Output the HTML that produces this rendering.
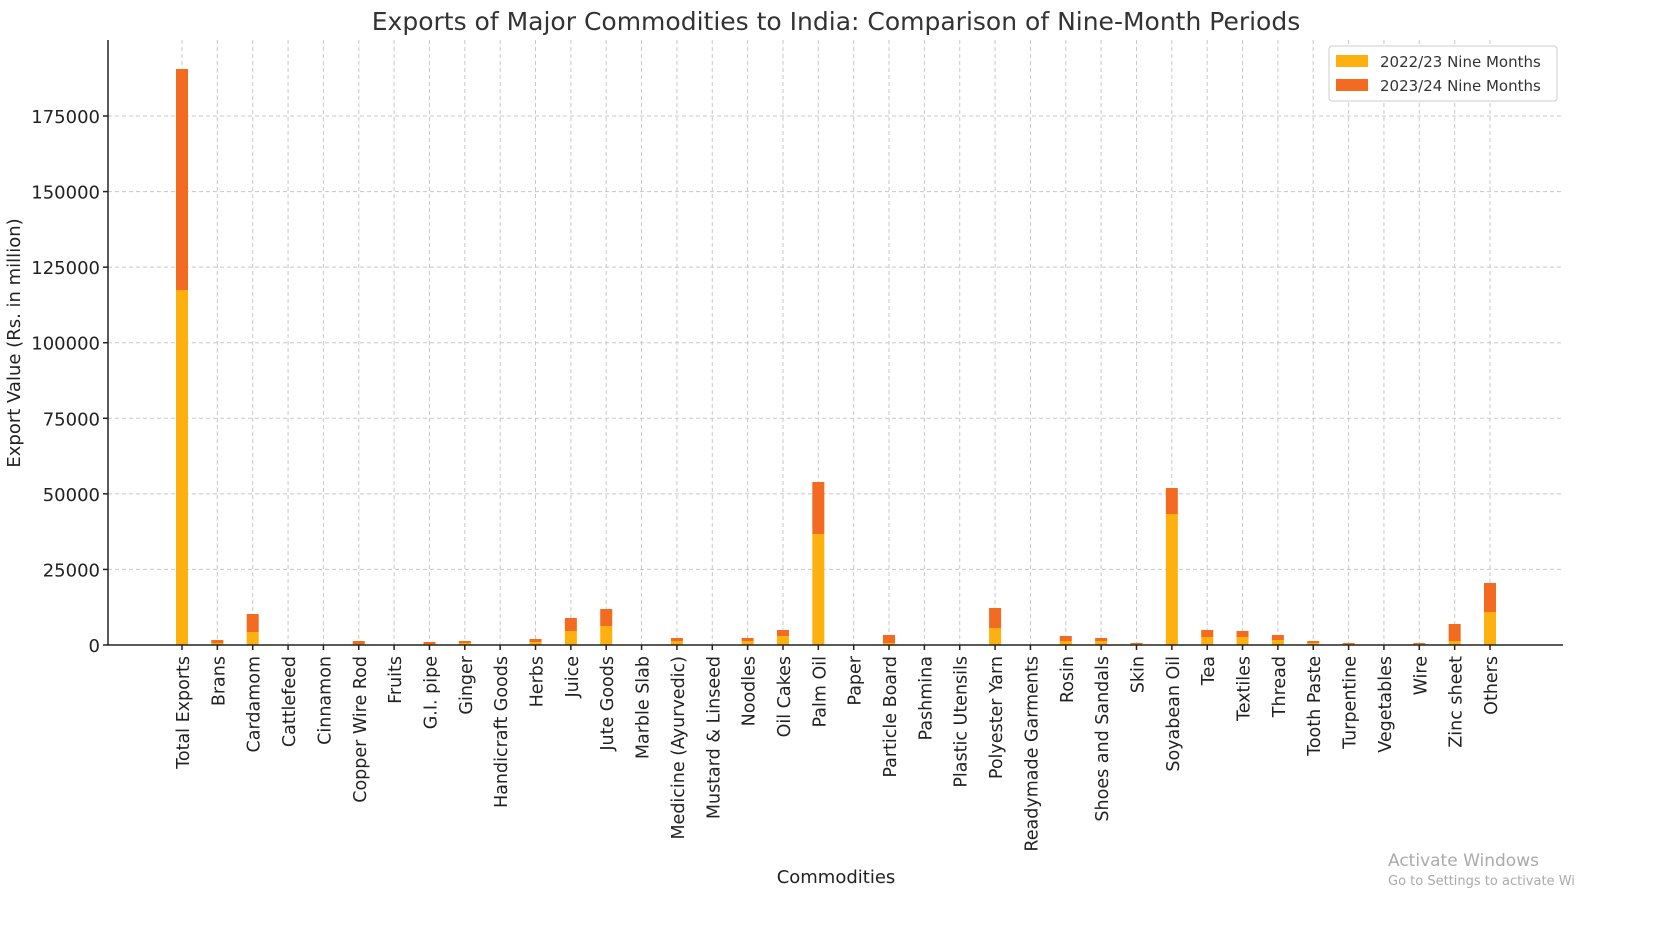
<!DOCTYPE html>
<html><head><meta charset="utf-8"><style>body{margin:0;background:#fff}svg{display:block;font-family:"DejaVu Sans","Liberation Sans",sans-serif}</style></head><body>
<svg id="s" width="1661" height="945" xmlns="http://www.w3.org/2000/svg">
<rect width="1661" height="945" fill="#fff"/>
<text x="836" y="30" font-size="25" text-anchor="middle" fill="#333">Exports of Major Commodities to India: Comparison of Nine-Month Periods</text>
<g id="grid" stroke="#c8c8c8" stroke-dasharray="4,3" stroke-width="1"></g>
<g id="bars"></g>
<line x1="108" y1="40" x2="108" y2="645" stroke="#222" stroke-width="1.5"/>
<line x1="108" y1="645" x2="1563" y2="645" stroke="#222" stroke-width="1.5"/>
<g id="yt" font-size="18" fill="#222" text-anchor="end"></g>
<g id="xt" font-size="17.5" fill="#222"></g>
<text transform="translate(20,343) rotate(-90)" font-size="18" text-anchor="middle" fill="#222">Export Value (Rs. in million)</text>
<text x="836" y="883" font-size="18" text-anchor="middle" fill="#222">Commodities</text>
<rect x="1329" y="46" width="228" height="55" fill="#fff" stroke="#ccc" rx="3"/>
<rect x="1336" y="55" width="32" height="12" fill="#FDB00F"/>
<text x="1380" y="67" font-size="15" fill="#333">2022/23 Nine Months</text>
<rect x="1336" y="79" width="32" height="12" fill="#F26B21"/>
<text x="1380" y="91" font-size="15" fill="#333">2023/24 Nine Months</text>
<text x="1388" y="866" font-size="17" fill="#aaa">Activate Windows</text>
<text x="1388" y="885" font-size="13" fill="#aaa">Go to Settings to activate Wi</text>
</svg>
<script>
const names=["Total Exports","Brans","Cardamom","Cattlefeed","Cinnamon","Copper Wire Rod","Fruits","G.I. pipe","Ginger","Handicraft Goods","Herbs","Juice","Jute Goods","Marble Slab","Medicine (Ayurvedic)","Mustard & Linseed","Noodles","Oil Cakes","Palm Oil","Paper","Particle Board","Pashmina","Plastic Utensils","Polyester Yarn","Readymade Garments","Rosin","Shoes and Sandals","Skin","Soyabean Oil","Tea","Textiles","Thread","Tooth Paste","Turpentine","Vegetables","Wire","Zinc sheet","Others"];
const tops=[[69,290],[640,643],[614,632],[645,645],[645,645],[641,644],[645,645],[642,644],[641,643],[645,645],[639,642],[618,631],[609,626],[645,645],[638,641],[645,645],[638,641],[630,636],[482,534],[645,645],[635,643],[645,645],[645,645],[608,628],[645,645],[636,641],[638,641],[643,644],[488,514],[630,637],[631,637],[635,640],[641,643],[643,644],[645,645],[643,644],[624,641],[583,612]];
const ns="http://www.w3.org/2000/svg";
function el(t,a,p,txt){const e=document.createElementNS(ns,t);for(const k in a)e.setAttribute(k,a[k]);if(txt!==undefined)e.textContent=txt;document.getElementById(p).appendChild(e);}
const dx=(1490-182)/(names.length-1);
for(let v=0;v<=175000;v+=25000){const y=645-v*0.0030228;el("line",{x1:108,x2:1563,y1:y,y2:y},"grid");el("text",{x:100,y:y+7},"yt",String(v));el("line",{x1:103,x2:108,y1:y,y2:y,stroke:"#222","stroke-width":1.5},"yt");}
names.forEach((n,i)=>{const x=182+i*dx;el("line",{x1:x,x2:x,y1:40,y2:645},"grid");
const [t,y]=tops[i];if(y<645)el("rect",{x:x-6,y:y,width:12,height:645-y,fill:"#FDB00F"},"bars");if(t<y)el("rect",{x:x-6,y:t,width:12,height:y-t,fill:"#F26B21"},"bars");
el("line",{x1:x,x2:x,y1:645,y2:650,stroke:"#222","stroke-width":1.5},"xt");
el("text",{transform:`translate(${x+7},656) rotate(-90)`,"text-anchor":"end"},"xt",n);});
</script>
</body></html>
